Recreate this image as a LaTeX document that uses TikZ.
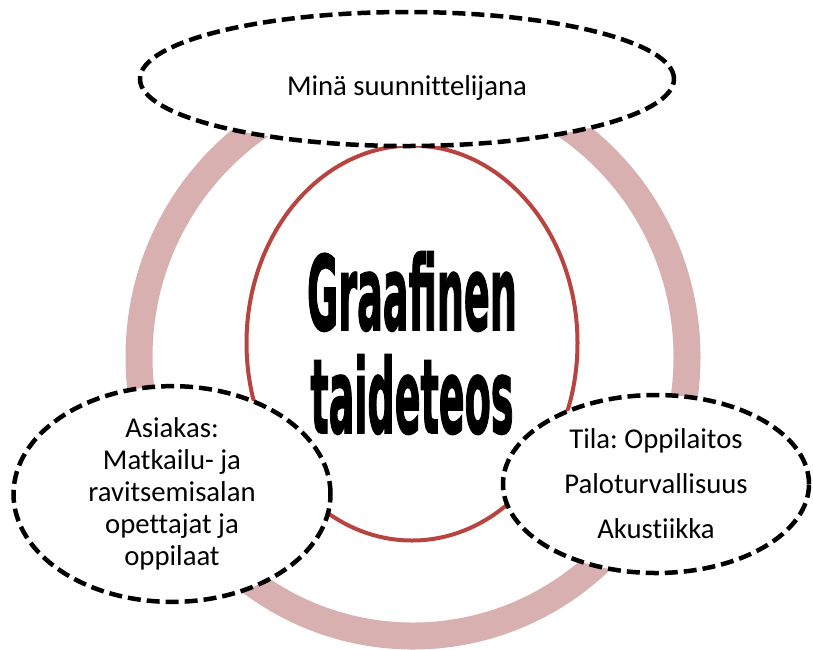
\documentclass[tikz,border=0pt]{standalone}
\usepackage{fontspec}
\setmainfont{Carlito}[Ligatures=NoCommon]
\newfontfamily\titlefont{DejaVu Sans Bold}[FakeBold=2]
\usetikzlibrary{shapes.geometric}
\definecolor{ringpink}{RGB}{217,176,176}
\definecolor{corered}{RGB}{184,68,64}
\frenchspacing

\begin{document}
\begin{tikzpicture}[x=1pt, y=-1pt,
  ring/.style = {draw=ringpink, line width=27pt, ellipse, inner sep=0pt},
  core/.style = {draw=corered, line width=4pt, ellipse, inner sep=0pt, align=center},
  part/.style = {draw, ellipse, fill=white, line width=4.5pt, dash pattern=on 13pt off 6pt, inner sep=0pt, align=center, font=\fontsize{28.7}{32}\selectfont}]
\useasboundingbox (0,0) rectangle (813,649);

\node[ring, minimum width=548pt, minimum height=558pt] (ring) at (413,357) {};
\node[core, minimum width=331pt, minimum height=395pt, font=\titlefont\fontsize{103}{103}\selectfont] (teos) at (412,343) {\scalebox{0.37}[1]{Graafinen}\\\scalebox{0.37}[1]{taideteos}};

\node[part, minimum width=534pt, minimum height=134pt, text height=32pt, text depth=0pt] (mina) at (407,79) {Minä suunnittelijana};
\node[part, minimum width=317pt, minimum height=178pt] (asiakas) at (172,494) {Asiakas:\\Matkailu- ja\\ravitsemisalan\\opettajat ja\\oppilaat};
\node[part, minimum width=306pt, minimum height=178pt, font=\fontsize{28.7}{45}\selectfont] (tila) at (656,484) {Tila: Oppilaitos\\Paloturvallisuus\\Akustiikka};

\end{tikzpicture}
\end{document}
